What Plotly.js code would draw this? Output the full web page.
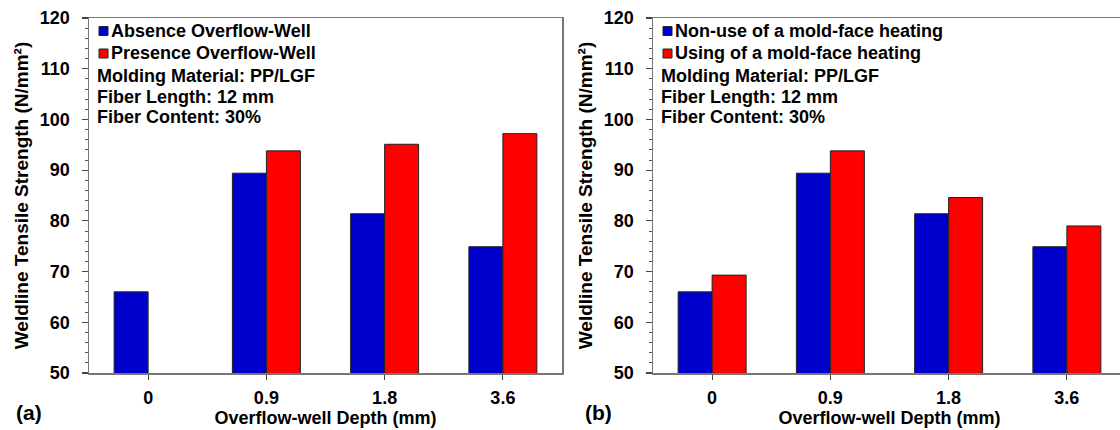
<!DOCTYPE html>
<html><head><meta charset="utf-8">
<script src="https://cdn.plot.ly/plotly-3.0.1.min.js"></script>
<style>html,body{margin:0;padding:0;overflow:hidden;background:#fff}#chart{width:1130px;height:430px}</style>
</head><body><div id="chart"></div>
<script>
// ---- data ----
const depthCategories = ['0', '0.9', '1.8', '3.6'];
const absenceWell  = [66.0, 89.4, 81.4, 74.9];
const presenceWell = [null, 93.8, 95.1, 97.2];
const nonHeating   = [66.0, 89.4, 81.4, 74.9];
const withHeating  = [69.3, 93.8, 84.6, 79.0];
const namesA = ['Absence Overflow-Well', 'Presence Overflow-Well'];
const namesB = ['Non-use of a mold-face heating', 'Using of a mold-face heating'];
const infoLines = ['Molding Material: PP/LGF', 'Fiber Length: 12 mm', 'Fiber Content: 30%'];
const panelLabels = ['(a)', '(b)'];
const xTitle = 'Overflow-well Depth (mm)';
const yTitle = 'Weldline Tensile Strength (N/mm²)';
const yRange = [50, 120];

// ---- styling ----
const BLUE = '#0000CC', RED = '#FF0000';
const FONT = 'Arial, "Liberation Sans", sans-serif';
const W = 1130, H = 430, L = 89, R = 4, T = 18, B = 57;
const plotW = W - L - R, plotH = H - T - B;
const panelW = 473;
const dom1 = [0, panelW / plotW];
const dom2 = [(653 - L) / plotW, 1];

function bar(name, y, color, xa, ya) {
  return {
    type: 'bar', name: name, x: depthCategories, y: y, xaxis: xa, yaxis: ya,
    marker: {color: color, line: {color: '#222', width: 1}},
    showlegend: false, hoverinfo: 'x+y+name'
  };
}
const traces = [
  bar(namesA[0], absenceWell, BLUE, 'x', 'y'),
  bar(namesA[1], presenceWell, RED, 'x', 'y'),
  bar(namesB[0], nonHeating, BLUE, 'x2', 'y2'),
  bar(namesB[1], withHeating, RED, 'x2', 'y2')
];

const tickFont = {family: FONT, size: 18, color: '#000', weight: 'bold'};
function xAxis(domain, anchor) {
  return {
    domain: domain, anchor: anchor, type: 'category', range: [-0.5, 3.5],
    showline: true, mirror: true, linecolor: '#777', linewidth: 1.5,
    ticks: 'outside', ticklen: 5, tickwidth: 1.2, tickcolor: '#444',
    showgrid: false, zeroline: false, tickfont: tickFont, ticklabelstandoff: 3,
    title: {text: xTitle, font: tickFont, standoff: 1}
  };
}
function yAxis(anchor) {
  return {
    anchor: anchor, range: yRange, tick0: 0, dtick: 10,
    showline: true, mirror: true, linecolor: '#777', linewidth: 1.5,
    ticks: 'outside', ticklen: 6, tickwidth: 1.2, tickcolor: '#444',
    minor: {dtick: 2, ticks: 'outside', ticklen: 3, tickwidth: 1, tickcolor: '#555'},
    showgrid: false, zeroline: false, tickfont: tickFont, ticklabelstandoff: 8,
    title: {text: yTitle, font: {family: FONT, size: 19, color: '#000', weight: 'bold'}, standoff: 6}
  };
}

// annotation / legend helpers (positions in panel pixels)
const annotations = [], shapes = [];
function dx(px) { return px / panelW; }
function dy(px) { return (plotH - (px - T)) / plotH; }
function panelText(xr, yr, names) {
  const rows = [31, 53.5];
  const colors = [BLUE, RED];
  names.forEach((n, i) => {
    shapes.push({type: 'rect', xref: xr + ' domain', yref: yr + ' domain',
      x0: dx(10), x1: dx(19), y0: dy(rows[i] + 4.5), y1: dy(rows[i] - 4.5),
      fillcolor: colors[i], line: {color: '#222', width: 1}});
    annotations.push({xref: xr + ' domain', yref: yr + ' domain', x: dx(20), y: dy(rows[i]),
      xanchor: 'left', yanchor: 'middle', showarrow: false, text: n, font: tickFont});
  });
  const infoRows = [76, 96.5, 117];
  infoLines.forEach((t, i) => {
    annotations.push({xref: xr + ' domain', yref: yr + ' domain', x: dx(6), y: dy(infoRows[i]),
      xanchor: 'left', yanchor: 'middle', showarrow: false, text: t, font: tickFont});
  });
}
panelText('x', 'y', namesA);
panelText('x2', 'y2', namesB);
[[14, panelLabels[0]], [583, panelLabels[1]]].forEach(([px, t]) => {
  annotations.push({xref: 'paper', yref: 'paper', x: (px - L) / plotW, y: (T + plotH - 412) / plotH,
    xanchor: 'left', yanchor: 'middle', showarrow: false, text: t,
    font: {family: FONT, size: 21, color: '#000', weight: 'bold'}});
});

const layout = {
  width: W, height: H,
  margin: {l: L, r: R, t: T, b: B},
  paper_bgcolor: '#fff', plot_bgcolor: '#fff',
  barmode: 'group', bargap: 0.425, bargroupgap: 0,
  showlegend: false,
  xaxis: xAxis(dom1, 'y'), yaxis: yAxis('x'),
  xaxis2: xAxis(dom2, 'y2'), yaxis2: yAxis('x2'),
  annotations: annotations, shapes: shapes,
  font: {family: FONT}
};
Plotly.newPlot('chart', traces, layout, {staticPlot: true, displayModeBar: false});
</script>
</body></html>
